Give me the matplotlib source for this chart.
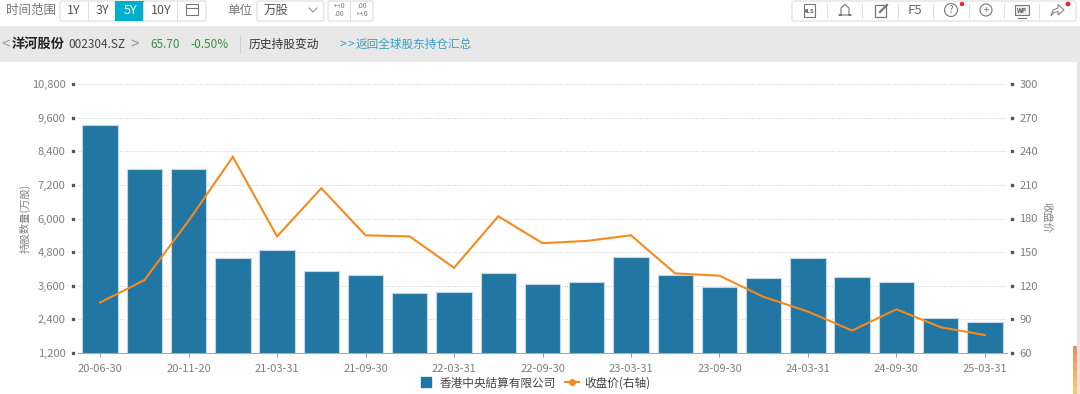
import matplotlib
matplotlib.use("Agg")
import matplotlib.pyplot as plt
from matplotlib.patches import Rectangle, FancyBboxPatch, Circle, Polygon
from matplotlib.lines import Line2D

plt.rcParams['font.family'] = ['Noto Sans CJK SC', 'DejaVu Sans']

dates = ["20-06-30", "20-08-31", "20-11-20", "20-12-31", "21-03-31", "21-06-30", "21-09-30",
         "21-12-31", "22-03-31", "22-06-30", "22-09-30", "22-12-31", "23-03-31", "23-06-30",
         "23-09-30", "23-12-31", "24-03-31", "24-06-30", "24-09-30", "24-12-31", "25-03-31"]
holdings = [9350, 7750, 7750, 4580, 4870, 4130, 3980, 3340, 3390, 4070, 3660,
            3740, 4640, 4000, 3560, 3860, 4590, 3930, 3720, 2450, 2300]
close = [105, 125, 178, 235, 164, 207, 165, 164, 136, 182, 158,
         160, 165, 131, 129, 110, 97, 80, 99, 83, 76]
left_ticks = [1200, 2400, 3600, 4800, 6000, 7200, 8400, 9600, 10800]
right_ticks = [60, 90, 120, 150, 180, 210, 240, 270, 300]
series_bar = "香港中央結算有限公司"
series_line = "收盘价(右轴)"

W, H = 1080, 394
BAR = "#2276a3"
LINE = "#f58a1f"
GRAY = "#7f7f7f"

fig = plt.figure(figsize=(W / 100, H / 100), dpi=100, facecolor="white")

# page chrome, in pixel coordinates
ui = fig.add_axes([0, 0, 1, 1], zorder=0)
ui.set_xlim(0, W); ui.set_ylim(H, 0); ui.axis("off")
ui.add_patch(Rectangle((0, 26), W, 36, fc="#e8e8e8", ec="none"))
ui.add_patch(Rectangle((1077, 62), 3, H - 62, fc="#e4e4e4", ec="none"))
scroll = ["#f88d5e", "#f9985f", "#faa362", "#fbae66", "#fcb96a", "#fdc46e"]
for i, c in enumerate(scroll):
    ui.add_patch(Rectangle((1072.5, 346 + i * 8), 4, 8.2, fc=c, ec="none"))

def txt(x, y, s, size=9, color="#555555", **kw):
    kw.setdefault("ha", "left")
    ui.text(x, y, s, fontsize=size, color=color, va="center", **kw)

def box(x, y, w, h):
    ui.add_patch(FancyBboxPatch((x + 1, y + 1), w - 2, h - 2, boxstyle="round,pad=1,rounding_size=2",
                                fc="white", ec="#dcdcdc", lw=0.8))

def sep(x, y0=4, y1=18, c="#dddddd"):
    ui.plot([x, x], [y0, y1], color=c, lw=0.7)

txt(6, 10, "时间范围", 9, "#777777")
box(60, 1, 146, 20)
for x in (88, 143, 177):
    sep(x, 2, 20)
ui.add_patch(Rectangle((115, 1), 29, 20, fc="#00b0ca", ec="none"))
for x, s, c in [(74, "1Y", "#555555"), (102, "3Y", "#555555"), (130, "5Y", "white"), (161, "10Y", "#555555")]:
    txt(x, 10, s, 9, c, ha="center")
ui.add_patch(Rectangle((186, 4), 12, 11, fc="none", ec="#777777", lw=0.8))
ui.plot([186, 198], [8, 8], color="#777777", lw=0.8)
txt(227, 10, "单位", 9, "#777777")
box(257, 1, 67, 20)
txt(264, 10, "万股", 9, "#555555")
ui.plot([309, 313, 317], [8, 12, 8], color="#888888", lw=0.7)
box(328, 1, 45, 20)
sep(350, 2, 20)
txt(339, 10, "↤.0\n.00", 5, "#777777", ha="center", linespacing=0.9)
txt(362, 10, ".00\n↦.0", 5, "#777777", ha="center", linespacing=0.9)

txt(1, 45, "<", 11, "#999999")
txt(12, 44, "洋河股份", 9.5, "#222222", fontweight="bold")
txt(68, 44, "002304.SZ", 8.5, "#444444")
txt(130, 45, ">", 11, "#999999")
txt(150, 44, "65.70", 8.5, "#3c8f3c")
txt(190, 44, "-0.50%", 8.5, "#3c8f3c")
ui.plot([240, 240], [36, 53], color="#d0d0d0", lw=0.7)
txt(249, 44, "历史持股变动", 8.5, "#333333")
txt(339, 44, ">", 8.5, "#3a9fc0")
txt(347, 44, ">", 8.5, "#3a9fc0")
txt(356, 44, "返回全球股东持仓汇总", 8.4, "#3a9fc0")

# right toolbar
box(792, 1, 284, 20)
for x in (827, 862, 898, 933, 969, 1004, 1039):
    sep(x)
ui.add_patch(Rectangle((804, 4), 11, 13, fc="white", ec="#777777", lw=0.8))
txt(809.5, 11, "XLS", 4.2, "#555555", ha="center", fontweight="bold")
ui.plot([841, 841, 845, 849, 849, 851, 839, 841], [15, 8, 4.5, 8, 15, 15, 15, 15], color="#777777", lw=0.8)
ui.add_patch(Rectangle((875, 5), 11, 12, fc="none", ec="#777777", lw=0.9))
ui.plot([880, 887], [12, 5], color="#777777", lw=1.6)
txt(915, 10, "F5", 9.5, "#666666", ha="center")
ui.add_patch(Circle((951, 10), 6.5, fc="none", ec="#777777", lw=0.8))
txt(951, 10, "?", 7, "#777777", ha="center")
ui.add_patch(Circle((962, 4), 2.2, fc="#f02020", ec="none"))
ui.add_patch(Circle((986, 10), 6, fc="none", ec="#777777", lw=0.8))
txt(986, 10, "+", 7, "#777777", ha="center")
ui.add_patch(Rectangle((1015, 5), 14, 10, fc="#eeeeee", ec="#777777", lw=0.8))
txt(1022, 10, "WP", 4.5, "#555555", ha="center", fontweight="bold")
ui.plot([1018, 1026], [17.5, 17.5], color="#777777", lw=0.8)
ui.add_patch(Polygon([(1051, 16), (1053, 10), (1058, 8), (1058, 4.5), (1064, 10), (1058, 15), (1058, 11.5), (1054, 12.5)],
                     closed=True, fc="white", ec="#888888", lw=0.8))
ui.add_patch(Circle((1068, 4), 2.4, fc="#f02020", ec="none"))

# chart
left, right, top, bottom = 78, 1007, 84, 353
ax = fig.add_axes([left / W, 1 - bottom / H, (right - left) / W, (bottom - top) / H], zorder=1)
ax.patch.set_alpha(0)
xs = list(range(len(dates)))
ax.set_xlim(-0.5, len(dates) - 0.5)
ax.set_ylim(left_ticks[0], left_ticks[-1])
ax.set_yticks(left_ticks)
ax.set_yticklabels([f"{v:,}" for v in left_ticks], fontsize=8, color=GRAY)
ax.grid(axis="y", color="#cfcfcf", ls=(0, (1, 1.5)), lw=0.7)
ax.set_axisbelow(True)
ax.bar(xs, holdings, bottom=0, width=0.8, color=BAR, edgecolor="#c3d8e5", linewidth=0.8, zorder=2)
ax.set_xticks(xs[::2])
ax.set_xticklabels(dates[::2], fontsize=8, color=GRAY)
ax.tick_params(axis="x", length=3, width=0.7, color="#999999", pad=5)
ax.tick_params(axis="y", length=0, pad=9)
for s in ("top", "left", "right"):
    ax.spines[s].set_visible(False)
ax.spines["bottom"].set_color("#aaaaaa")
ax.spines["bottom"].set_linewidth(0.8)
ax.plot([-0.0058] * len(left_ticks), left_ticks, "s", ms=2, color="#555555",
        transform=ax.get_yaxis_transform(), clip_on=False)

ax2 = ax.twinx()
ax2.set_ylim(right_ticks[0], right_ticks[-1])
ax2.set_yticks(right_ticks)
ax2.set_yticklabels([str(v) for v in right_ticks], fontsize=8, color=GRAY)
ax2.tick_params(axis="y", length=0, pad=9)
for s in ax2.spines.values():
    s.set_visible(False)
ax2.plot(xs, close, color=LINE, lw=1.5, zorder=3, solid_joinstyle="miter")
ax2.plot([1.0055] * len(right_ticks), right_ticks, "s", ms=2, color="#555555",
         transform=ax2.get_yaxis_transform(), clip_on=False)

fig.text(25 / W, 1 - 218 / H, "持股数量(万股)", rotation=90, fontsize=7.5, color=GRAY, ha="center", va="center")
fig.text(1047 / W, 1 - 218 / H, "收盘价", rotation=270, fontsize=7.5, color=GRAY, ha="center", va="center")

handles = [Line2D([], [], ls="none", marker="s", ms=6.5, color=BAR),
           Line2D([], [], color=LINE, lw=1.5, marker="o", ms=4)]
fig.legend(handles, [series_bar, series_line], loc="center", bbox_to_anchor=(535 / W, 1 - 383 / H),
           ncol=2, frameon=False, fontsize=8.4, labelcolor="#444444", handlelength=1.2,
           columnspacing=0.8, handletextpad=0.5, borderpad=0)

fig.savefig("out.png", dpi=100, facecolor="white")
